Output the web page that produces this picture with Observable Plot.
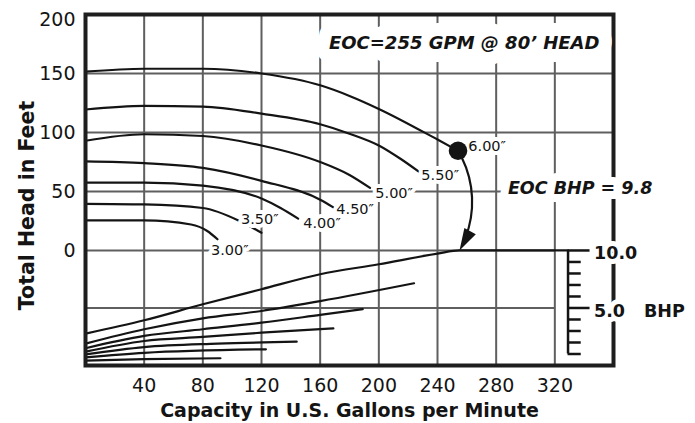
<!DOCTYPE html>
<html>
<head>
<meta charset="utf-8">
<script src="https://cdn.jsdelivr.net/npm/d3@7"></script>
<script src="https://cdn.jsdelivr.net/npm/@observablehq/plot@0.6"></script>
<style>
  html, body { margin: 0; padding: 0; background: #ffffff; }
</style>
</head>
<body>
<div id="chart"></div>
<script>
// ---------- data ----------
const xTicks = [40, 80, 120, 160, 200, 240, 280, 320];
const yTicks = [0, 50, 100, 150];
const yTopTick = [200];
const bhpTicks = [1, 2, 3, 4, 5, 6, 7, 8, 9, 10];
const bhpLabelValues = [10, 5];

const impellerSizes = ["6.00″", "5.50″", "5.00″", "4.50″", "4.00″", "3.50″", "3.00″"];

// head curves: [GPM, feet]
const head600 = [[0, 151.5], [40, 154], [80, 154], [120, 150], [160, 140], [180, 131], [200, 120], [240, 94], [254, 84.5]];
const head550 = [[0, 119.5], [40, 122.5], [80, 122], [120, 116], [160, 107], [180, 99], [200, 89], [215, 77.5], [227, 67]];
const head500 = [[0, 93], [40, 98.5], [80, 97], [120, 89], [160, 75], [180, 64], [194, 53]];
const head450 = [[0, 75.5], [40, 74], [80, 70], [120, 59], [160, 43], [169, 36.5]];
const head400 = [[0, 57.5], [40, 57.5], [80, 55], [120, 44], [133, 36], [145, 27]];
const head350 = [[0, 39.5], [40, 39], [80, 36], [105, 25], [120, 15]];
const head300 = [[0, 25.5], [40, 25.5], [72, 22], [83, 16.5], [90, 9.5]];

// brake horsepower curves: [GPM, BHP]
const bhp600 = [[0, 2.77], [40, 3.93], [80, 5.32], [120, 6.63], [160, 7.93], [200, 8.8], [240, 9.72], [255, 10], [329, 10]];
const bhp550 = [[0, 1.9], [40, 3.15], [80, 4.1], [120, 4.74], [160, 5.6], [224, 7.15]];
const bhp500 = [[0, 1.5], [40, 2.57], [80, 3.15], [120, 3.72], [160, 4.4], [189, 4.9]];
const bhp450 = [[0, 1.2], [40, 2.13], [80, 2.48], [120, 2.85], [169, 3.23]];
const bhp400 = [[0, 0.96], [40, 1.6], [90, 1.9], [144, 2.07]];
const bhp350 = [[0, 0.7], [40, 1.1], [123, 1.41]];
const bhp300 = [[0, 0.43], [40, 0.55], [92, 0.63]];

// end-of-curve point
const eocPoint = {gpm: 254, head: 84.5};
const eocBhpPoint = {gpm: 255, bhp: 10};
const bhpAxisGpm = 329;

const titleText = "EOC=255 GPM @ 80’ HEAD";
const eocBhpText = "EOC BHP = 9.8";
const xTitle = "Capacity in U.S. Gallons per Minute";
const yTitle = "Total Head in Feet";
const bhpTitle = "BHP";

// label anchor positions (GPM, feet) for the impeller-size labels
const labelGpm = [261, 229, 197.6, 171, 148.4, 106, 85.5];
const labelHead = [88, 64, 48.8, 35, 22.7, 26.7, 0.2];

// ---------- helpers ----------
// the BHP scale shares the lower part of the head axis: 10 BHP at 0 ft, 0 BHP at the bottom
const bhpToHead = b => (b - 10) * 9.75;

const headCurves = [head600, head550, head500, head450, head400, head350, head300];
const bhpCurves = [bhp600, bhp550, bhp500, bhp450, bhp400, bhp350, bhp300];

const headRows = impellerSizes.flatMap((s, i) => headCurves[i].map(([gpm, head]) => ({size: s, gpm, head})));
const bhpRows = impellerSizes.flatMap((s, i) => bhpCurves[i].map(([gpm, bhp]) => ({size: s, gpm, bhp})));
const labelRows = impellerSizes.map((s, i) => ({size: s, gpm: labelGpm[i], head: labelHead[i]}));

const arrowHead = {
  draw(ctx) {
    ctx.moveTo(0, 0);
    ctx.lineTo(4.9, -22.4);
    ctx.lineTo(16.3, -16.1);
    ctx.closePath();
  }
};

const gridColor = "#5f5f5f";
const ink = "#141414";

const chart = Plot.plot({
  width: 695,
  height: 423,
  marginTop: 14,
  marginBottom: 58,
  marginLeft: 85,
  marginRight: 82,
  x: {domain: [0, 360]},
  y: {domain: [-97.5, 200]},
  style: {fontFamily: "'DejaVu Sans', sans-serif", background: "#ffffff", color: ink},
  marks: [
    // grid
    Plot.ruleX(xTicks, {stroke: gridColor, strokeWidth: 2}),
    Plot.ruleY([50, 100, 150], {stroke: gridColor, strokeWidth: 2}),
    Plot.ruleY([0, bhpToHead(5)], {x1: 0, x2: 320, stroke: gridColor, strokeWidth: 2}),
    // head curves
    Plot.line(headRows, {x: "gpm", y: "head", z: "size", curve: "monotone-x", stroke: ink, strokeWidth: 2.2}),
    // BHP curves
    Plot.line(bhpRows, {x: "gpm", y: d => bhpToHead(d.bhp), z: "size", curve: "monotone-x", stroke: ink, strokeWidth: 2.2}),
    // frame
    Plot.frame({stroke: "#1e1e1e", strokeWidth: 4}),
    // BHP axis
    Plot.ruleX([bhpAxisGpm], {y1: bhpToHead(1), y2: bhpToHead(10), stroke: ink, strokeWidth: 2.5}),
    Plot.ruleY(bhpTicks, {y: bhpToHead, x1: bhpAxisGpm, x2: d => bhpAxisGpm + (d % 5 === 0 ? 15 : 9), stroke: ink, strokeWidth: 2.5}),
    // axes
    Plot.axisX({ticks: xTicks, tickSize: 0, tickPadding: 13, fontSize: 19, label: null}),
    Plot.axisY({ticks: yTicks, tickSize: 0, tickPadding: 10, fontSize: 19, label: null}),
    Plot.axisY({ticks: yTopTick, tickSize: 0, tickPadding: 10, fontSize: 19, label: null, dy: 5}),
    Plot.text([xTitle], {frameAnchor: "bottom", dy: 45, text: d => d, fontSize: 19, fontWeight: "bold", textAnchor: "middle", lineAnchor: "middle", fill: ink}),
    Plot.text([yTitle], {frameAnchor: "left", rotate: -90, dx: -58, dy: 15.5, text: d => d, fontSize: 20.5, fontWeight: "bold", textAnchor: "middle", lineAnchor: "middle", fill: ink}),
    // impeller-size labels
    Plot.text(labelRows, {x: "gpm", y: "head", text: "size", textAnchor: "start", lineAnchor: "middle", fontSize: 14.5, fill: ink, stroke: "#fff", strokeWidth: 8, paintOrder: "stroke"}),
    // annotations
    Plot.text([{gpm: 166, head: 176, label: titleText}], {x: "gpm", y: "head", text: "label", textAnchor: "start", lineAnchor: "middle", fontSize: 18, fontWeight: "bold", fontStyle: "italic", fill: ink, stroke: "#fff", strokeWidth: 26, paintOrder: "stroke"}),
    Plot.text([{gpm: 288, head: 53, label: eocBhpText}], {x: "gpm", y: "head", text: "label", textAnchor: "start", lineAnchor: "middle", fontSize: 17.5, fontWeight: "bold", fontStyle: "italic", fill: ink, stroke: "#fff", strokeWidth: 16, paintOrder: "stroke"}),
    Plot.text(bhpLabelValues, {x: bhpAxisGpm, y: bhpToHead, text: d => d.toFixed(1), dx: 26, dy: 3, textAnchor: "start", lineAnchor: "middle", fontSize: 17.5, fontWeight: "bold", fill: ink, stroke: "#fff", strokeWidth: 10, paintOrder: "stroke"}),
    Plot.text([bhpTitle], {x: bhpAxisGpm, y: bhpToHead(5), text: d => d, dx: 76, dy: 3, textAnchor: "start", lineAnchor: "middle", fontSize: 17.5, fontWeight: "bold", fill: ink}),
    // EOC point and arrow
    Plot.dot([eocPoint], {x: "gpm", y: "head", r: 9.3, fill: ink, stroke: "none"}),
    Plot.arrow([{x1: eocPoint.gpm, y1: eocPoint.head, x2: eocBhpPoint.gpm, y2: bhpToHead(eocBhpPoint.bhp)}], {x1: "x1", y1: "y1", x2: "x2", y2: "y2", bend: 30, insetStart: 8, insetEnd: 14, headLength: 0, stroke: ink, strokeWidth: 2.2}),
    Plot.dot([eocBhpPoint], {x: "gpm", y: d => bhpToHead(d.bhp), symbol: arrowHead, r: 10, fill: ink, stroke: "none"})
  ]
});

document.getElementById("chart").appendChild(chart);
</script>
</body>
</html>
